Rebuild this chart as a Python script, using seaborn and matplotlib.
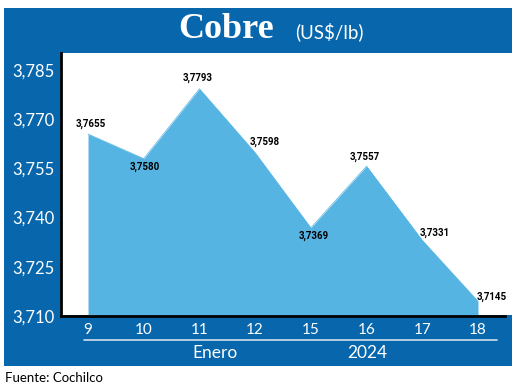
import pandas as pd
import numpy as np
import matplotlib
matplotlib.use("Agg")
import matplotlib.pyplot as plt
from matplotlib.patches import Rectangle
from matplotlib.lines import Line2D
import seaborn as sns

# data
days = ["9", "10", "11", "12", "15", "16", "17", "18"]
prices = [3.7655, 3.7580, 3.7793, 3.7598, 3.7369, 3.7557, 3.7331, 3.7145]
price_labels = ["3,7655", "3,7580", "3,7793", "3,7598", "3,7369", "3,7557", "3,7331", "3,7145"]
yticks = [3.710, 3.725, 3.740, 3.755, 3.770, 3.785]
ytick_labels = ["3,710", "3,725", "3,740", "3,755", "3,770", "3,785"]

DARK = "#0867AC"
LIGHT = "#56B4E3"

sns.set_style("white")
plt.rcParams["font.family"] = ["Lato", "DejaVu Sans"]

df = pd.DataFrame({"pos": np.arange(len(days)), "price": prices})

fig = plt.figure(figsize=(5.2, 3.88), dpi=100)
W, H = 520, 388

def fx(x):
    return x / W

def fy(y):
    return 1 - y / H

# blue frame and white plot panel
fig.patches.append(Rectangle((fx(4), fy(366)), fx(508), 358 / H, transform=fig.transFigure,
                             facecolor=DARK, edgecolor="none", zorder=-3))
fig.patches.append(Rectangle((fx(61), fy(315)), fx(451), 262 / H, transform=fig.transFigure,
                             facecolor="white", edgecolor="none", zorder=-2))

ax = fig.add_axes([fx(61), fy(316), fx(444), 263 / H])
ax.patch.set_alpha(0)

sns.lineplot(data=df, x="pos", y="price", ax=ax, color=LIGHT, linewidth=0.5)
ax.fill_between(df["pos"], df["price"], 3.710, color=LIGHT, linewidth=0)

ax.set_xlim(-0.485, 7.485)
ax.set_ylim(3.710, 3.7902)
ax.set_xlabel("")
ax.set_ylabel("")

ax.set_yticks(yticks)
ax.set_yticklabels(ytick_labels)
ax.set_xticks(df["pos"])
ax.set_xticklabels(days)
ax.tick_params(axis="y", direction="in", length=8, width=2, color="black",
               labelcolor="white", labelsize=12, pad=5)
ax.tick_params(axis="x", length=0, labelcolor="white", labelsize=11, pad=5)

for side in ["top", "right"]:
    ax.spines[side].set_visible(False)
for side in ["left", "bottom"]:
    ax.spines[side].set_color("black")
    ax.spines[side].set_linewidth(2)

# value labels
offsets = [(2, 7), (1, -6), (-1, 8), (7, 8), (2, -6), (-1, 7), (9, 5), (10, 3)]
for i, (lab, off) in enumerate(zip(price_labels, offsets)):
    ax.annotate(lab, (i, prices[i]), xytext=off, textcoords="offset points",
                ha="center", va="center", fontsize=7, fontweight="bold",
                family=["Roboto", "DejaVu Sans"], color="black")

# title banner
fig.text(fx(226), fy(30), "Cobre", ha="center", va="center", color="white",
         fontsize=26, fontweight="bold", family=["Liberation Serif", "DejaVu Serif"])
fig.text(fx(295), fy(32), "(US$/lb)", ha="left", va="center", color="white", fontsize=13.5)

# bottom band
fig.add_artist(Line2D([fx(84), fx(497)], [fy(340), fy(340)], color="#D0E0EE", linewidth=1.2,
                      transform=fig.transFigure))
fig.text(fx(215), fy(353), "Enero", ha="center", va="center", color="white", fontsize=12.5)
fig.text(fx(367), fy(353), "2024", ha="center", va="center", color="white", fontsize=12.5)

fig.text(fx(5), fy(378), "Fuente: Cochilco", ha="left", va="center", color="black", fontsize=9.5)

fig.savefig("out.png", dpi=100)
